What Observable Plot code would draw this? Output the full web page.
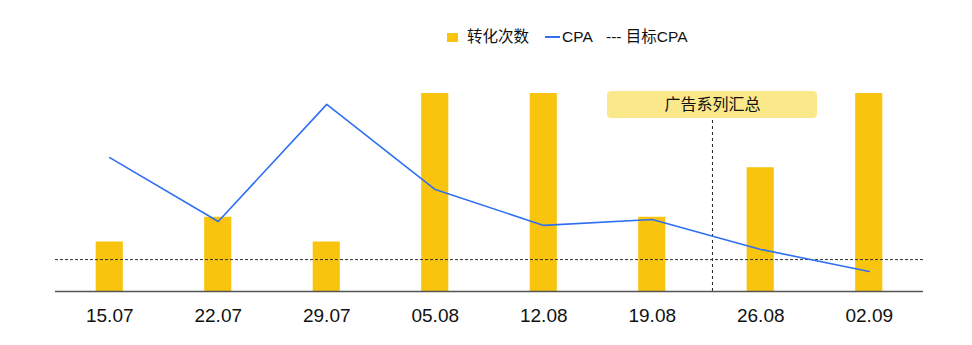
<!DOCTYPE html>
<html>
<head>
<meta charset="utf-8">
<script src="https://cdn.jsdelivr.net/npm/d3@7"></script>
<script src="https://cdn.jsdelivr.net/npm/@observablehq/plot@0.6"></script>
<style>
  html, body { margin: 0; padding: 0; background: #fff; }
  body { width: 972px; height: 345px; overflow: hidden; font-family: "Liberation Sans", "Noto Sans CJK SC", sans-serif; }
  #legend { height: 60px; position: relative; font-size: 15.5px; color: #111; font-family: "Liberation Sans", "Noto Sans CJK SC", sans-serif; }
  #legend .item { position: absolute; top: 27px; line-height: 20px; display: flex; align-items: center; white-space: nowrap; }
  #legend .sw { display: inline-block; width: 11px; height: 9px; background: #f8c40d; margin-right: 9px; }
  #legend .ln { display: inline-block; width: 15px; height: 2px; background: #2f6ff3; margin-right: 2px; }
</style>
</head>
<body>
<div id="legend">
  <div class="item" style="left:447px"><span class="sw"></span>转化次数</div>
  <div class="item" style="left:545px"><span class="ln"></span>CPA</div>
  <div class="item" style="left:606px">--- 目标CPA</div>
</div>
<div id="chart"></div>
<script>
const weeks = ["15.07", "22.07", "29.07", "05.08", "12.08", "19.08", "26.08", "02.09"];
const conversions = [2, 3, 2, 8, 8, 3, 5, 8];
const cpa = [541, 283, 756, 412, 267, 291, 170, 81];
const targetCpa = 129;
const summaryLabel = "广告系列汇总";
const summaryAt = 5.555;   // between 19.08 and 26.08
const cpaPerUnit = 100;    // CPA axis scale relative to conversions axis

const rows = weeks.map((w, i) => ({i, week: w, conv: conversions[i], cpa: cpa[i] / cpaPerUnit}));
const barHalf = 0.125;

const chart = Plot.plot({
  width: 972,
  height: 285,
  marginLeft: 55,
  marginRight: 49,
  marginTop: 33,
  marginBottom: 54,
  style: {fontFamily: "'Liberation Sans', 'Noto Sans CJK SC', sans-serif", background: "#fff"},
  x: {domain: [-0.5, weeks.length - 0.5], axis: null},
  y: {domain: [0, 8], axis: null},
  marks: [
    Plot.rect([0], {x1: summaryAt - 0.9675, x2: summaryAt + 0.9675, y1: 6.99, y2: 8.08, fill: "#fbe88a", rx: 4}),
    Plot.text([summaryLabel], {x: summaryAt, y: 7.55, text: d => d, fontSize: 16, fill: "#111", fontFamily: "'Noto Sans CJK SC', sans-serif"}),
    Plot.rectY(rows, {x1: d => d.i - barHalf, x2: d => d.i + barHalf, y1: 0, y2: "conv", fill: "#f8c40d"}),
    Plot.ruleX([summaryAt], {y1: 0, y2: 6.99, stroke: "#222", strokeWidth: 1, strokeDasharray: "3,3"}),
    Plot.ruleY([targetCpa / cpaPerUnit], {x1: -0.5, x2: weeks.length - 0.5, stroke: "#333", strokeWidth: 1, strokeDasharray: "3,2"}),
    Plot.line(rows, {x: "i", y: "cpa", stroke: "#2f6ff3", strokeWidth: 1.6}),
    Plot.ruleY([0], {x1: -0.5, x2: weeks.length - 0.5, stroke: "#555", strokeWidth: 1.5}),
    Plot.text(rows, {x: "i", y: 0, text: "week", dy: 24, fontSize: 19, fill: "#111"})
  ]
});
document.getElementById("chart").appendChild(chart);
</script>
</body>
</html>
